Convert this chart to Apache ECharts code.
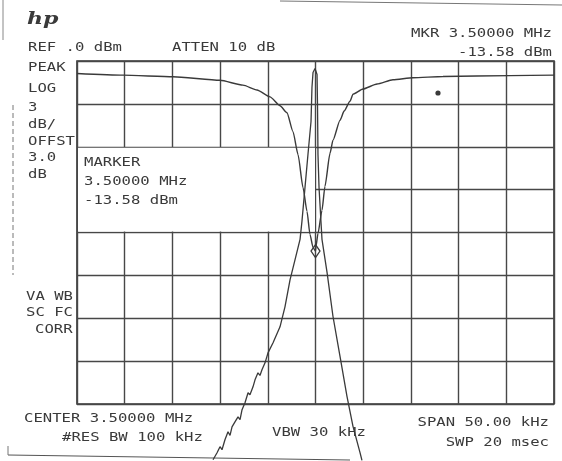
<!DOCTYPE html>
<html>
<head>
<meta charset="utf-8">
<script src="https://cdn.jsdelivr.net/npm/echarts@6/dist/echarts.min.js"></script>
<style>
html,body{margin:0;padding:0;background:#fff}
#chart{width:562px;height:461px}
</style>
</head>
<body>
<div id="chart"></div>
<script>
// offset from center 3.50000 MHz (kHz), level in dB (REF 0 dBm, 3 dB/div)
const notchFreq = [-25, -20.18, -14.94, -10.01, -7.6, -6.13, -4.77, -3.72, -2.99, -2.36, -1.83, -1.31, -0.89, -0.58, -0.26, 0,
  0.05, 0.26, 0.68, 0.99, 1.52, 1.83, 2.57, 3.0, 3.62, 3.93, 4.98, 6.45, 8.12, 10.22, 13.36, 20.39, 25];
const notchLevel = [-0.87, -0.99, -1.1, -1.35, -1.69, -2.03, -2.51, -3.13, -3.62, -4.94, -6.55, -8.85, -10.52, -12.13, -13.04, -13.3,
  -12.97, -12.06, -10.45, -8.77, -6.46, -5.55, -4.15, -3.5, -2.81, -2.32, -1.96, -1.61, -1.31, -1.17, -1.08, -1.02, -0.99];

const peakFreq = [-10.74, -10.32, -10.01, -9.8, -9.49, -9.17, -8.96, -8.75, -8.44, -8.12, -7.91, -7.7, -7.39, -7.07, -6.87, -6.55,
  -6.34, -6.03, -5.82, -5.61, -5.29, -4.98, -4.45, -3.72, -3.2, -2.67, -2.15, -1.62, -1.42, -1.1, -0.79, -0.47, -0.37, -0.26, -0.05,
  0.16, 0.21, 0.26, 0.37, 0.68, 1.21, 1.83, 2.57, 3.3, 3.93, 4.66, 4.87];
const peakLevel = [-27.9, -27.41, -26.99, -27.2, -26.5, -25.94, -26.2, -25.6, -25.25, -24.9, -25.1, -24.4, -23.91, -23.21, -23.35, -22.8,
  -22.31, -21.82, -22.0, -21.6, -21.12, -20.42, -19.72, -18.6, -17.2, -15.31, -13.91, -12.48, -11.22, -8.84, -6.54, -4.23, -1.85, -0.8, -0.52,
  -0.94, -3.04, -6.54, -8.85, -12.48, -14.79, -17.86, -20.66, -23.46, -25.56, -27.38, -27.94];

const markerFreq = 0;
const markerLevel = -13.3;

// annotation texts: [text, x, top y, align]
const labels = [
  ['REF .0 dBm', 28, 41, 'left'],
  ['ATTEN 10 dB', 172, 41, 'left'],
  ['MKR 3.50000 MHz', 552, 27, 'right'],
  ['-13.58 dBm', 552, 46, 'right'],
  ['PEAK', 28, 61, 'left'],
  ['LOG', 28, 82, 'left'],
  ['3', 28, 101, 'left'],
  ['dB/', 28, 118, 'left'],
  ['OFFST', 28, 135, 'left'],
  ['3.0', 28, 151, 'left'],
  ['dB', 28, 168, 'left'],
  ['VA WB', 26, 290, 'left'],
  ['SC FC', 26, 306, 'left'],
  ['CORR', 35, 323, 'left'],
  ['MARKER', 84, 156, 'left'],
  ['3.50000 MHz', 84, 175, 'left'],
  ['-13.58 dBm', 84, 194, 'left'],
  ['CENTER 3.50000 MHz', 24, 412, 'left'],
  ['#RES BW 100 kHz', 62, 431, 'left'],
  ['VBW 30 kHz', 272, 426, 'left'],
  ['SPAN 50.00 kHz', 549, 416, 'right'],
  ['SWP 20 msec', 549, 436, 'right']
];

const ink = '#3a3a3a';
const chart = echarts.init(document.getElementById('chart'));

function textEl(t) {
  return {
    type: 'text', x: t[1], y: t[2], scaleX: 1.2, z: 10,
    style: {
      text: t[0], x: 0, y: 0, fill: ink,
      font: '13px "DejaVu Sans Mono"',
      align: t[3], verticalAlign: 'top'
    }
  };
}

chart.setOption({
  animation: false,
  backgroundColor: '#fff',
  grid: { left: 77, right: 8, top: 61, bottom: 57, show: true, borderColor: '#333', borderWidth: 1.6 },
  xAxis: {
    type: 'value', min: -25, max: 25, interval: 5,
    axisLine: { show: false }, axisTick: { show: false }, axisLabel: { show: false },
    splitLine: { lineStyle: { color: '#474747', width: 1.4 } }
  },
  yAxis: {
    type: 'value', min: -24, max: 0, interval: 3,
    axisLine: { show: false }, axisTick: { show: false }, axisLabel: { show: false },
    splitLine: { lineStyle: { color: '#474747', width: 1.4 } }
  },
  series: [
    {
      type: 'line', z: 5, clip: false, showSymbol: false, smooth: 0.2, smoothMonotone: 'x',
      data: notchFreq.map((f, i) => [f, notchLevel[i]]),
      lineStyle: { color: ink, width: 1.4 },
      markPoint: {
        symbol: 'diamond', symbolSize: [9, 13],
        itemStyle: { color: 'rgba(255,255,255,0)', borderColor: ink, borderWidth: 1.3 },
        label: { show: false },
        data: [{ coord: [markerFreq, markerLevel] }]
      }
    },
    {
      type: 'line', z: 5, clip: false, showSymbol: false,
      data: peakFreq.map((f, i) => [f, peakLevel[i]]),
      lineStyle: { color: ink, width: 1.3 }
    }
  ]
});

// marker readout box blanks the grid behind it
const p1 = chart.convertToPixel({ gridIndex: 0 }, [-25, -6]);
const p2 = chart.convertToPixel({ gridIndex: 0 }, [0, -12]);

chart.setOption({
  graphic: [
    {
      type: 'rect', z: 1, silent: true,
      shape: { x: p1[0] + 1, y: p1[1] + 1, width: p2[0] - p1[0] - 1.5, height: p2[1] - p1[1] - 2 },
      style: { fill: '#fff' }
    },
    {
      type: 'text', x: 27, y: 11, scaleX: 1.3, z: 10,
      style: { text: 'hp', x: 0, y: 0, fill: ink, font: 'italic bold 17px "DejaVu Serif"', verticalAlign: 'top' }
    },
    { type: 'circle', z: 10, shape: { cx: 438, cy: 93, r: 2.6 }, style: { fill: ink } },
    { type: 'line', z: 1, shape: { x1: 280, y1: 1, x2: 562, y2: 5 }, style: { stroke: '#777', lineWidth: 1 } },
    { type: 'line', z: 1, shape: { x1: 3, y1: 0, x2: 3, y2: 40 }, style: { stroke: '#888', lineWidth: 1 } },
    { type: 'line', z: 1, shape: { x1: 13, y1: 105, x2: 13, y2: 275 }, style: { stroke: '#777', lineWidth: 1, lineDash: [5, 3] } },
    { type: 'line', z: 1, shape: { x1: 8, y1: 455, x2: 350, y2: 460 }, style: { stroke: '#555', lineWidth: 1.2 } },
    { type: 'line', z: 1, shape: { x1: 8, y1: 446, x2: 8, y2: 455 }, style: { stroke: '#777', lineWidth: 1 } }
  ].concat(labels.map(textEl))
});
</script>
</body>
</html>
